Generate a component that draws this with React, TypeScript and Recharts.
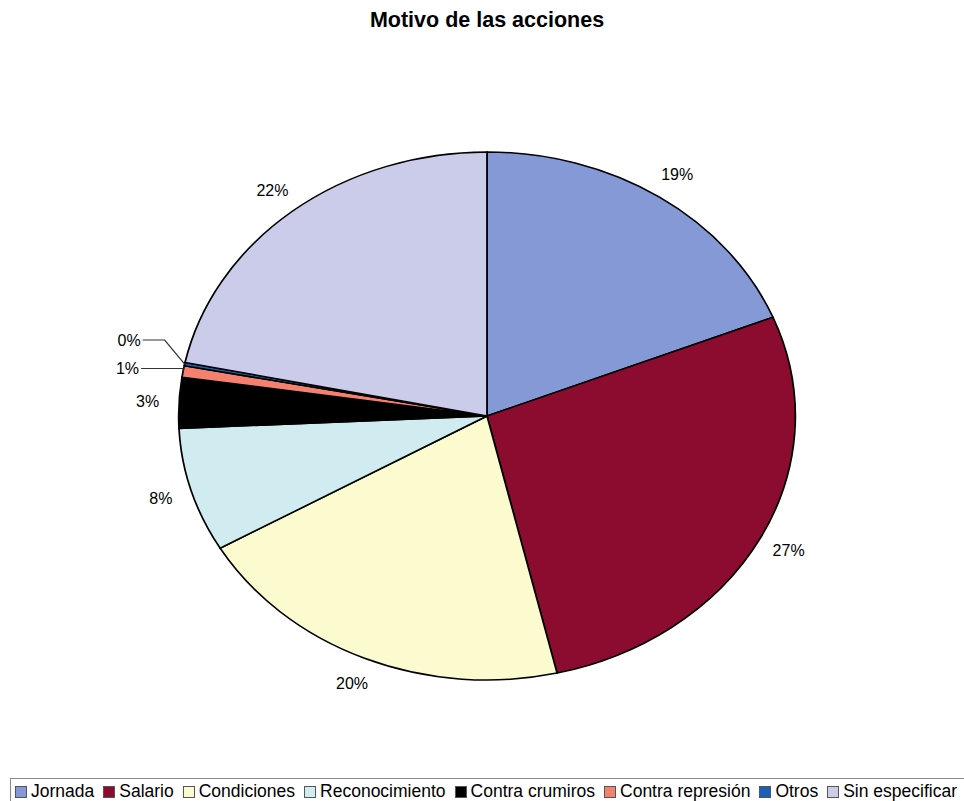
import React from 'react';
import { PieChart, Pie, Cell } from 'recharts';

const categories = ['Jornada', 'Salario', 'Condiciones', 'Reconocimiento', 'Contra crumiros', 'Contra represión', 'Otros', 'Sin especificar'];
const values = [18.9, 27.45, 20.3, 7.6, 3.1, 0.7, 0.2, 21.75];
const colors = ['#8499d6', '#8c0c30', '#fbfbcf', '#d0ecf0', '#000000', '#f4806e', '#1a5fb4', '#cbcbea'];

const data = categories.map((name, i) => ({ name, value: values[i] }));

const SX = 1.168;
const W = 700;
const H = 801;
const CX_PAGE = 487;
const CY = 416;
const R = 264;
const RAD = Math.PI / 180;

const renderLabel = (props: any) => {
  const { cx, cy, midAngle, outerRadius, percent } = props;
  const txt = `${Math.round(percent * 100)}%`;
  const cos = Math.cos(-midAngle * RAD);
  const sin = Math.sin(-midAngle * RAD);
  if (percent < 0.01) {
    const ex = cx + outerRadius * cos;
    const ey = cy + outerRadius * sin;
    const lift = percent < 0.005 ? 24 : 3;
    const elbowX = ex - (lift > 5 ? 20 : 0) / SX;
    const elbowY = ey - lift;
    const endX = ex - 42 / SX;
    const points = `${ex},${ey} ${elbowX},${elbowY} ${endX},${elbowY}`;
    return (
      <g>
        <polyline points={points} fill="none" stroke="#333" strokeWidth={1} />
        <text
          transform={`translate(${endX - 2 / SX},${elbowY}) scale(${1 / SX},1)`}
          x={0}
          y={0}
          textAnchor="end"
          dominantBaseline="central"
          fontSize={16}
          fill="#000"
          fontFamily='"Liberation Sans", Arial, sans-serif'
        >
          {txt}
        </text>
      </g>
    );
  }
  const r = outerRadius + 27;
  const x = cx + r * cos;
  const y = cy + r * sin;
  return (
    <text
      transform={`translate(${x},${y}) scale(${1 / SX},1)`}
      x={0}
      y={0}
      textAnchor="middle"
      dominantBaseline="central"
      fontSize={16}
      fill="#000"
      fontFamily='"Liberation Sans", Arial, sans-serif'
    >
      {txt}
    </text>
  );
};

export default function App() {
  return (
    <div
      style={{
        position: 'absolute',
        left: 0,
        top: 0,
        width: 964,
        height: 801,
        background: '#fff',
        overflow: 'hidden',
        fontFamily: '"Liberation Sans", Arial, sans-serif',
      }}
    >
      <div
        style={{
          position: 'absolute',
          left: CX_PAGE,
          top: 8,
          transform: 'translateX(-50%)',
          whiteSpace: 'nowrap',
          fontWeight: 'bold',
          fontSize: 21.5,
          color: '#000',
        }}
      >
        Motivo de las acciones
      </div>
      <div
        style={{
          position: 'absolute',
          left: CX_PAGE - W / 2,
          top: 0,
          width: W,
          height: H,
          transform: `scaleX(${SX})`,
          transformOrigin: 'center center',
        }}
      >
        <PieChart width={W} height={H} margin={{ top: 0, right: 0, bottom: 0, left: 0 }}>
          <Pie
            data={data}
            dataKey="value"
            nameKey="name"
            cx={W / 2}
            cy={CY}
            outerRadius={R}
            startAngle={90}
            endAngle={-270}
            stroke="#000"
            strokeWidth={1.5}
            label={renderLabel}
            labelLine={false}
            isAnimationActive={false}
          >
            {data.map((d, i) => (
              <Cell key={d.name} fill={colors[i]} />
            ))}
          </Pie>
        </PieChart>
      </div>
      <div
        style={{
          position: 'absolute',
          left: 10,
          top: 778,
          width: 970,
          height: 40,
          border: '1px solid #888',
          boxSizing: 'border-box',
          display: 'flex',
          alignItems: 'flex-start',
          paddingLeft: 4,
          paddingTop: 2,
          fontSize: 17.5,
          color: '#000',
          whiteSpace: 'nowrap',
        }}
      >
        {categories.map((c, i) => (
          <div key={c} style={{ display: 'flex', alignItems: 'center', marginRight: 9 }}>
            <span
              style={{
                display: 'inline-block',
                width: 10,
                height: 10,
                background: colors[i],
                border: '1px solid #555',
                marginRight: 4,
              }}
            />
            <span>{c}</span>
          </div>
        ))}
      </div>
    </div>
  );
}
